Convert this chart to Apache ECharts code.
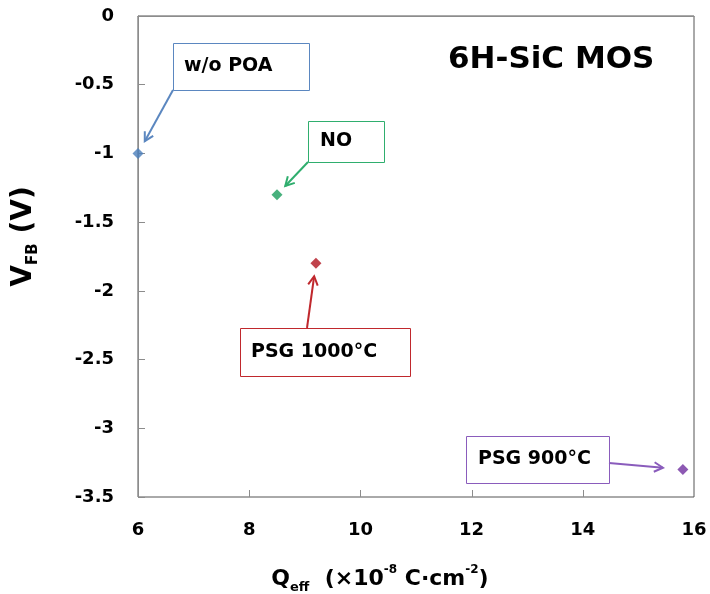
<!DOCTYPE html>
<html>
<head>
<meta charset="utf-8">
<script src="https://cdn.jsdelivr.net/npm/echarts@6/dist/echarts.min.js"></script>
<style>
  html, body { margin: 0; padding: 0; background: #fff; }
  #chart { width: 710px; height: 594px; }
</style>
</head>
<body>
<div id="chart"></div>
<script>
// Flat-band voltage vs. effective oxide charge for 6H-SiC MOS capacitors
const samples = ['w/o POA', 'NO', 'PSG 1000°C', 'PSG 900°C'];
const qEff = [6.0, 8.5, 9.2, 15.8];     // ×10^-8 C·cm^-2
const vFB = [-1.0, -1.3, -1.8, -3.3];   // V
const xTicks = [6, 8, 10, 12, 14, 16];
const yTicks = [0, -0.5, -1, -1.5, -2, -2.5, -3, -3.5];

const markColors = ['#4a7ebb', '#1a9e5c', '#b0141f', '#7030a0'];
const boxColors = ['#5b87c0', '#2fae6e', '#c0282d', '#8a5cbc'];
const AXIS_GRAY = '#8c8c8c';

const FONT = '"DejaVu Sans", "Open Sans", sans-serif';

const chart = echarts.init(document.getElementById('chart'), null, { renderer: 'canvas' });

chart.setOption({
  animation: false,
  backgroundColor: '#ffffff',
  title: {
    text: '6H-SiC MOS',
    left: 443,
    top: 39,
    textStyle: { fontFamily: FONT, fontWeight: 'bold', fontSize: 31, color: '#000' }
  },
  grid: {
    left: 138, top: 16, right: 16, bottom: 97,
    containLabel: false,
    outerBoundsMode: 'none',
    show: true, borderColor: '#555', borderWidth: 1, backgroundColor: 'transparent'
  },
  xAxis: {
    type: 'value',
    position: 'bottom',
    min: xTicks[0], max: xTicks[xTicks.length - 1], interval: 2,
    axisLine: { lineStyle: { color: AXIS_GRAY, width: 1 } },
    // inward ticks on this axis are drawn as graphic lines below
    axisTick: { show: false },
    splitLine: { show: false },
    axisLabel: { margin: 24, fontFamily: FONT, fontWeight: 'bold', fontSize: 18, color: '#000' },
    name: '{m|Q}{s|eff}{m|  (×10}{p|-8}{m| C·cm}{p|-2}{m|)}',
    nameLocation: 'middle',
    nameGap: 67,
    nameTextStyle: {
      padding: [0, 72, 0, 0],
      rich: {
        m: { fontFamily: FONT, fontWeight: 'bold', fontSize: 22, lineHeight: 30, color: '#000' },
        s: { fontFamily: FONT, fontWeight: 'bold', fontSize: 13, lineHeight: 15, verticalAlign: 'bottom', color: '#000' },
        p: { fontFamily: FONT, fontWeight: 'bold', fontSize: 12, lineHeight: 14, verticalAlign: 'top', color: '#000' }
      }
    }
  },
  yAxis: {
    type: 'value',
    position: 'left',
    min: yTicks[yTicks.length - 1], max: yTicks[0], interval: 0.5,
    axisLine: { show: true, lineStyle: { color: AXIS_GRAY, width: 1 } },
    axisTick: { show: true, inside: true, length: 7, lineStyle: { color: AXIS_GRAY } },
    splitLine: { show: false },
    axisLabel: { margin: 24, fontFamily: FONT, fontWeight: 'bold', fontSize: 18, color: '#000' },
    name: '{m|V}{s|FB}{m| (V)}',
    nameLocation: 'middle',
    nameGap: 97,
    nameTextStyle: {
      padding: [0, 0, 0, 40],
      rich: {
        m: { fontFamily: FONT, fontWeight: 'bold', fontSize: 28, lineHeight: 34, color: '#000' },
        s: { fontFamily: FONT, fontWeight: 'bold', fontSize: 15, lineHeight: 16, verticalAlign: 'bottom', color: '#000' }
      }
    }
  },
  series: [{
    type: 'scatter',
    symbol: 'diamond',
    symbolSize: 11,
    data: qEff.map((q, i) => ({
      name: samples[i],
      value: [q, vFB[i]],
      itemStyle: { color: markColors[i] }
    }))
  }]
});

const elements = [];

// Inward tick marks along the bottom axis
const yBottom = chart.convertToPixel({ yAxisIndex: 0 }, yTicks[yTicks.length - 1]);
xTicks.slice(1, -1).forEach(v => {
  const px = Math.round(chart.convertToPixel({ xAxisIndex: 0 }, v)) + 0.5;
  elements.push({
    type: 'line',
    shape: { x1: px, y1: yBottom, x2: px, y2: yBottom - 7 },
    style: { stroke: AXIS_GRAY, lineWidth: 1 },
    z: 5
  });
});

// Callout boxes: [left, top, width, height] in pixels, arrow tail point, gap before the mark
const callouts = [
  { box: [173, 43, 136, 47], tail: [173, 90], gap: 14, textX: 184 },
  { box: [308, 121, 76, 41], tail: [308, 162], gap: 12, textX: 320 },
  { box: [240, 328, 170, 48], tail: [307, 328], gap: 13, textX: 251 },
  { box: [466, 436, 143, 47], tail: [609, 463], gap: 20, textX: 478 }
];

callouts.forEach((c, i) => {
  const p = chart.convertToPixel({ seriesIndex: 0 }, [qEff[i], vFB[i]]);
  const dx = c.tail[0] - p[0], dy = c.tail[1] - p[1];
  const len = Math.hypot(dx, dy);
  const ux = dx / len, uy = dy / len;
  const head = [p[0] + ux * c.gap, p[1] + uy * c.gap];
  const wing = 10, ang = 0.5;
  const w1 = [head[0] + wing * (ux * Math.cos(ang) - uy * Math.sin(ang)),
              head[1] + wing * (uy * Math.cos(ang) + ux * Math.sin(ang))];
  const w2 = [head[0] + wing * (ux * Math.cos(-ang) - uy * Math.sin(-ang)),
              head[1] + wing * (uy * Math.cos(-ang) + ux * Math.sin(-ang))];
  const col = boxColors[i];
  elements.push({
    type: 'rect',
    shape: { x: c.box[0] + 0.5, y: c.box[1] + 0.5, width: c.box[2], height: c.box[3] },
    style: { fill: '#fff', stroke: col, lineWidth: 1 },
    z: 10
  });
  elements.push({
    type: 'text',
    x: c.textX, y: c.box[1] + c.box[3] / 2,
    style: {
      text: samples[i], fill: '#000',
      font: 'bold 19px ' + FONT,
      textVerticalAlign: 'middle', verticalAlign: 'middle'
    },
    z: 11
  });
  elements.push({
    type: 'polyline',
    shape: { points: [c.tail, head] },
    style: { stroke: col, lineWidth: 2, fill: null },
    z: 10
  });
  elements.push({
    type: 'polyline',
    shape: { points: [w1, head, w2] },
    style: { stroke: col, lineWidth: 2, fill: null, lineJoin: 'miter' },
    z: 10
  });
});

chart.setOption({ graphic: { elements: elements } });
</script>
</body>
</html>
